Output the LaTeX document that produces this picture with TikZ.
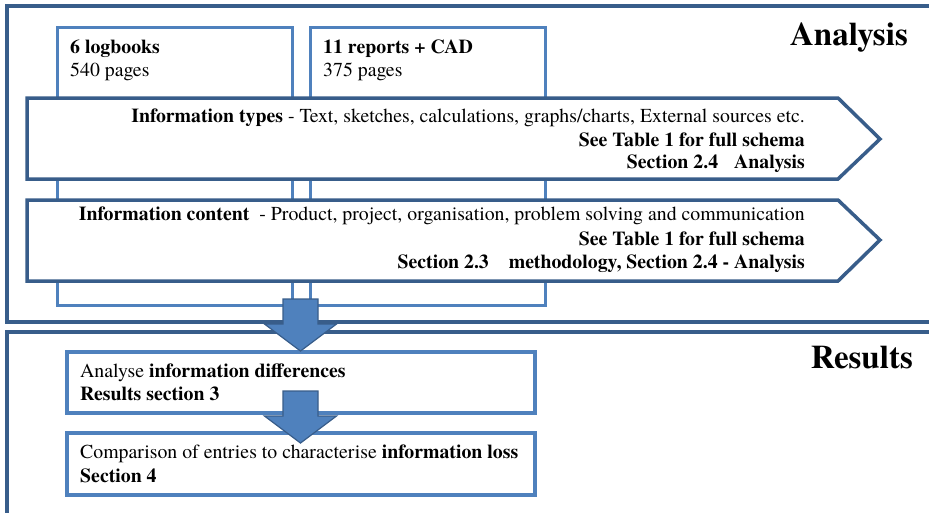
\documentclass[tikz,border=0pt]{standalone}
\usepackage{fontspec}
\setmainfont{texgyretermes}[Extension=.otf,UprightFont=*-regular,BoldFont=*-bold,ItalicFont=*-italic,BoldItalicFont=*-bolditalic]
\definecolor{frameblue}{HTML}{385D8A}
\definecolor{boxblue}{HTML}{4F81BD}
\begin{document}
\begin{tikzpicture}[x=1pt,y=-1pt,
  frame/.style={draw=frameblue,line width=3.5pt},
  srcbox/.style={draw=boxblue,line width=3pt},
  tag/.style={draw=frameblue,fill=white,line width=3.5pt,line join=miter},
  resbox/.style={draw=boxblue,fill=white,line width=4pt},
  blockarrow/.style={fill=boxblue,draw=frameblue,line width=1.2pt,line join=miter},
  txt/.style={inner sep=0pt,font=\fontsize{19.8}{23}\selectfont},
  stage/.style={inner sep=0pt,font=\fontsize{33}{36}\selectfont\bfseries,anchor=base east},
  downarrow/.pic={
    \draw[blockarrow] (-17.5,0) -- (17.5,0) -- (17.5,25) -- (36,25) -- (0,52)
      -- (-36,25) -- (-17.5,25) -- cycle;
  }]
\useasboundingbox (0,0) rectangle (929,512);
\clip (0,0) rectangle (929,512);
\fill[white] (0,0) rectangle (929,512);

% stage frames, open to the right
\draw[frame] (7,6) rectangle (945,322);
\draw[frame] (7,332) rectangle (945,530);

% source material boxes
\draw[srcbox] (57,27) rectangle (292,305);
\draw[srcbox] (310,27) rectangle (545,305);

% coding schema banners
\draw[tag] (27,98) -- (838,98) -- (880,139) -- (838,179) -- (27,179) -- cycle;
\draw[tag] (27,200) -- (838,200) -- (880,240) -- (838,281) -- (27,281) -- cycle;

% result steps
\draw[resbox] (67,352) rectangle (535,413);
\draw[resbox] (67,433) rectangle (535,495);

% flow arrows
\pic at (300.5,299) {downarrow};
\pic at (300.5,391) {downarrow};

% stage titles
\node[stage] (analysis) at (908,45) {Analysis};
\node[stage] (results) at (913,368) {Results};

% source texts
\node[txt,anchor=base west] (logA) at (70,53) {\textbf{6 logbooks}};
\node[txt,anchor=base west] (logB) at (70,76) {540 pages};
\node[txt,anchor=base west] (repA) at (323,53) {\textbf{11 reports + CAD}};
\node[txt,anchor=base west] (repB) at (323,76) {375 pages};

% banner texts
\node[txt,anchor=base east] (typA) at (805,122) {\textbf{Information types} - Text, sketches, calculations, graphs/charts, External sources etc.};
\node[txt,anchor=base east] (typB) at (805,146) {\textbf{See Table 1 for full schema}};
\node[txt,anchor=base east] (typC) at (805,168) {\textbf{Section 2.4\hspace{16pt}Analysis}};
\node[txt,anchor=base east] (conA) at (805,220) {\textbf{Information content}\hspace{10pt}- Product, project, organisation, problem solving and communication};
\node[txt,anchor=base east] (conB) at (805,245) {\textbf{See Table 1 for full schema}};
\node[txt,anchor=base east] (conC) at (805,268) {\textbf{Section 2.3\hspace{20pt}methodology, Section 2.4 - Analysis}};

% result texts
\node[txt,anchor=base west] (resA) at (80,377) {Analyse \textbf{information differences}};
\node[txt,anchor=base west] (resB) at (80,400) {\textbf{Results section 3}};
\node[txt,anchor=base west] (cmpA) at (80,458) {Comparison of entries to characterise \textbf{information loss}};
\node[txt,anchor=base west] (cmpB) at (80,482) {\textbf{Section 4}};
\end{tikzpicture}
\end{document}
